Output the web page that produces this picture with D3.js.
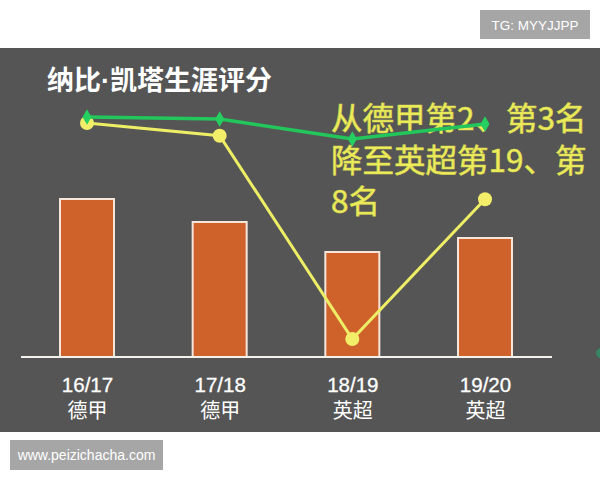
<!DOCTYPE html>
<html>
<head>
<meta charset="utf-8">
<script src="https://cdn.jsdelivr.net/npm/d3@7"></script>
<style>
  body { margin: 0; background: #fff; }
  svg { display: block; }
</style>
</head>
<body>
<div id="chart"></div>
<script>
// chart data
var seasons = ["16/17", "17/18", "18/19", "19/20"];
var leagues = ["德甲", "德甲", "英超", "英超"];
var barValues = [79, 67.5, 52.5, 59.5];      // bar heights (relative)
var ratingValues = [7.6, 7.5, 6.5, 7.25];    // green line
var leagueRanks = [2, 3, 19, 8];             // yellow line, league position
var noteLines = ["从德甲第2、第3名", "降至英超第19、第", "8名"];
var titleParts = ["纳比", "·", "凯塔生涯评分"];

var W = 600, H = 480;
var baseY = 357;

var svg = d3.select('#chart').append('svg')
    .attr('width', W)
    .attr('height', H);

// dark panel
svg.append('rect')
    .attr('x', 0).attr('y', 48)
    .attr('width', W).attr('height', 384)
    .attr('fill', '#555555');

// watermark badges
svg.append('rect')
    .attr('x', 480).attr('y', 10).attr('width', 110).attr('height', 29)
    .attr('fill', '#a6a6a6');
svg.append('text')
    .attr('x', 535).attr('y', 29.5)
    .attr('text-anchor', 'middle')
    .attr('font-family', '"Liberation Sans", Arial, sans-serif')
    .attr('font-size', 13.5)
    .attr('fill', '#ffffff')
    .text('TG: MYYJJPP');

svg.append('rect')
    .attr('x', 10).attr('y', 440).attr('width', 153).attr('height', 30)
    .attr('fill', '#a6a6a6');
svg.append('text')
    .attr('x', 86.5).attr('y', 460)
    .attr('text-anchor', 'middle')
    .attr('font-family', '"Liberation Sans", Arial, sans-serif')
    .attr('font-size', 14)
    .attr('fill', '#ffffff')
    .text('www.peizichacha.com');

// scales
var x = d3.scalePoint().domain(seasons).range([87, 485]);
var barW = 54;
var yBar = d3.scaleLinear().domain([0, 100]).range([baseY, 157]);
var yRating = d3.scaleLinear().domain([6.5, 7.6]).range([139, 117]);
var yRank = d3.scaleLinear().domain([2, 19]).range([123, 339]);

// title, the middle dot kept narrow
var title = svg.append('text')
    .attr('x', 47).attr('y', 90)
    .attr('font-family', '"Noto Sans CJK SC", sans-serif')
    .attr('font-weight', 'bold')
    .attr('font-size', 27)
    .attr('fill', '#ffffff');
title.selectAll('tspan')
    .data(titleParts)
    .enter().append('tspan')
    .attr('font-family', function(d) {
        return d == '·' ? '"Liberation Sans", sans-serif' : null;
    })
    .text(function(d) { return d; });

// bars
svg.selectAll('rect.bar')
    .data(barValues)
    .enter().append('rect')
    .attr('class', 'bar')
    .attr('x', function(d, i) { return x(seasons[i]) - barW / 2; })
    .attr('y', function(d) { return yBar(d); })
    .attr('width', barW)
    .attr('height', function(d) { return baseY - yBar(d); })
    .attr('fill', '#cf612b')
    .attr('stroke', '#f6e6da')
    .attr('stroke-width', 2);

// baseline
svg.append('line')
    .attr('x1', 21).attr('x2', 552)
    .attr('y1', baseY).attr('y2', baseY)
    .attr('stroke', '#f4f0ec')
    .attr('stroke-width', 2);

// x axis labels
var xAxis = d3.axisBottom(x).tickSize(0).tickPadding(0);
var gx = svg.append('g')
    .attr('transform', 'translate(0,' + baseY + ')')
    .call(xAxis);
gx.select('.domain').remove();
gx.selectAll('.tick text')
    .attr('dy', null)
    .attr('y', 35)
    .attr('font-family', '"Liberation Sans", "Noto Sans CJK SC", sans-serif')
    .attr('font-size', 20.5)
    .attr('fill', '#ffffff')
    .attr('stroke', '#ffffff')
    .attr('stroke-width', 0.3);
gx.selectAll('.tick').append('text')
    .attr('y', 61)
    .attr('text-anchor', 'middle')
    .attr('font-family', '"Noto Sans CJK SC", sans-serif')
    .attr('font-size', 20)
    .attr('fill', '#ffffff')
    .text(function(d, i) { return leagues[i]; });

// annotation
var note = svg.append('text')
    .attr('font-family', '"Noto Sans CJK SC", sans-serif')
    .attr('font-size', 31.5)
    .attr('fill', '#eeee5c')
    .attr('stroke', '#d8d850')
    .attr('stroke-width', 0.7);
note.selectAll('tspan')
    .data(noteLines)
    .enter().append('tspan')
    .attr('x', 331)
    .attr('y', function(d, i) { return 130 + i * 41.5; })
    .text(function(d) { return d; });

// yellow line (league position)
var rankLine = d3.line()
    .x(function(d, i) { return x(seasons[i]); })
    .y(function(d) { return yRank(d); });
svg.append('path')
    .datum(leagueRanks)
    .attr('d', rankLine)
    .attr('fill', 'none')
    .attr('stroke', '#eeee66')
    .attr('stroke-width', 3);
svg.selectAll('circle.rank')
    .data(leagueRanks)
    .enter().append('circle')
    .attr('class', 'rank')
    .attr('cx', function(d, i) { return x(seasons[i]); })
    .attr('cy', function(d) { return yRank(d); })
    .attr('r', 7)
    .attr('fill', '#f2ee6a');

// green line (rating)
var ratingLine = d3.line()
    .x(function(d, i) { return x(seasons[i]); })
    .y(function(d) { return yRating(d); });
svg.append('path')
    .datum(ratingValues)
    .attr('d', ratingLine)
    .attr('fill', 'none')
    .attr('stroke', '#22c65a')
    .attr('stroke-width', 3.5);
svg.selectAll('path.diamond')
    .data(ratingValues)
    .enter().append('path')
    .attr('class', 'diamond')
    .attr('d', d3.symbol().type(d3.symbolDiamond).size(70))
    .attr('transform', function(d, i) {
        return 'translate(' + x(seasons[i]) + ',' + yRating(d) + ')';
    })
    .attr('fill', '#25d060');

// clipped marker at the right edge
svg.append('circle')
    .attr('cx', 601).attr('cy', 353).attr('r', 5)
    .attr('fill', '#2a9a6a')
    .attr('opacity', 0.7);
</script>
</body>
</html>
